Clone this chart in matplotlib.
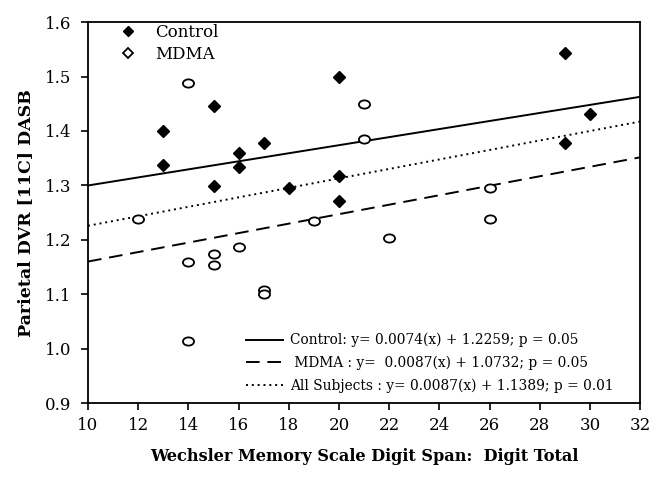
import numpy as np
import matplotlib
matplotlib.use("Agg")
import matplotlib.pyplot as plt
from matplotlib.lines import Line2D
from matplotlib.path import Path
from matplotlib.transforms import Affine2D

# Control subjects (filled markers)
control_x = [13, 13, 15, 15, 16, 16, 17, 18, 20, 20, 20, 29, 29, 30]
control_y = [1.400, 1.338, 1.446, 1.299, 1.359, 1.334, 1.377, 1.295, 1.500,
             1.317, 1.271, 1.543, 1.378, 1.432]

# MDMA subjects (open markers)
mdma_x = [12, 14, 14, 14, 15, 15, 16, 17, 17, 19, 21, 21, 22, 26, 26]
mdma_y = [1.239, 1.488, 1.159, 1.015, 1.174, 1.154, 1.187, 1.108, 1.101,
          1.235, 1.449, 1.386, 1.204, 1.296, 1.238]

# regression lines (slope, intercept) as printed in the chart
fit_names = ["Control: y= 0.0074(x) + 1.2259; p = 0.05",
             " MDMA : y=  0.0087(x) + 1.0732; p = 0.05",
             "All Subjects : y= 0.0087(x) + 1.1389; p = 0.01"]
fit_slopes = [0.0074, 0.0087, 0.0087]
fit_intercepts = [1.2259, 1.0732, 1.1389]

x_ticks = list(range(10, 33, 2))
y_ticks = [0.9, 1.0, 1.1, 1.2, 1.3, 1.4, 1.5, 1.6]

plt.rcParams["font.family"] = ["DejaVu Serif"]

fig = plt.figure(figsize=(6.62, 4.8), dpi=100)
ax = fig.add_axes([0.133, 0.160, 0.834, 0.794])

# slightly wide ellipse marker for the open symbols
ellipse = Path.unit_circle().transformed(Affine2D().scale(1.35, 1.0))

line_styles = ["-", (0, (7, 4)), (0, (1, 2))]
xx = np.array([10, 32])
for slope, icpt, ls in zip(fit_slopes, fit_intercepts, line_styles):
    ax.plot(xx, slope * xx + icpt, color="black", lw=1.4, linestyle=ls, zorder=2)

ax.plot(control_x, control_y, linestyle="none", marker="D", ms=6,
        mfc="black", mec="black", zorder=3)
ax.plot(mdma_x, mdma_y, linestyle="none", marker=ellipse, ms=8,
        mfc="white", mec="black", mew=1.3, zorder=3)

ax.set_xlim(10, 32)
ax.set_ylim(0.9, 1.6)
ax.set_xticks(x_ticks)
ax.set_yticks(y_ticks)
ax.set_yticklabels([f"{v:.1f}" for v in y_ticks])
ax.tick_params(direction="out", length=5, width=1.2, labelsize=12)
ax.tick_params(axis="x", pad=5)
ax.tick_params(axis="y", pad=7)
for s in ax.spines.values():
    s.set_linewidth(1.3)

ax.set_xlabel("Wechsler Memory Scale Digit Span:  Digit Total",
              fontsize=11.6, fontweight="bold", labelpad=10)
ax.set_ylabel("Parietal DVR [11C] DASB", fontsize=12.5, fontweight="bold",
              labelpad=8)

# group legend (top left)
grp_handles = [Line2D([], [], linestyle="none", marker="D", ms=5.5, mfc="black", mec="black"),
               Line2D([], [], linestyle="none", marker="D", ms=5.5, mfc="white",
                      mec="black", mew=1.3)]
leg1 = ax.legend(grp_handles, ["Control", "MDMA"], loc="upper left",
                 bbox_to_anchor=(0.015, 1.035), frameon=False, fontsize=12,
                 handletextpad=0.6, labelspacing=0.3)
ax.add_artist(leg1)

# fit legend (bottom right)
fit_handles = [Line2D([], [], color="black", lw=1.4, linestyle=ls) for ls in line_styles]
ax.legend(fit_handles, fit_names, loc="lower right", bbox_to_anchor=(0.975, -0.005),
          frameon=False, fontsize=9.9, handlelength=2.7, handletextpad=0.5,
          labelspacing=0.6)

fig.savefig("out.png", dpi=100)
plt.close(fig)
